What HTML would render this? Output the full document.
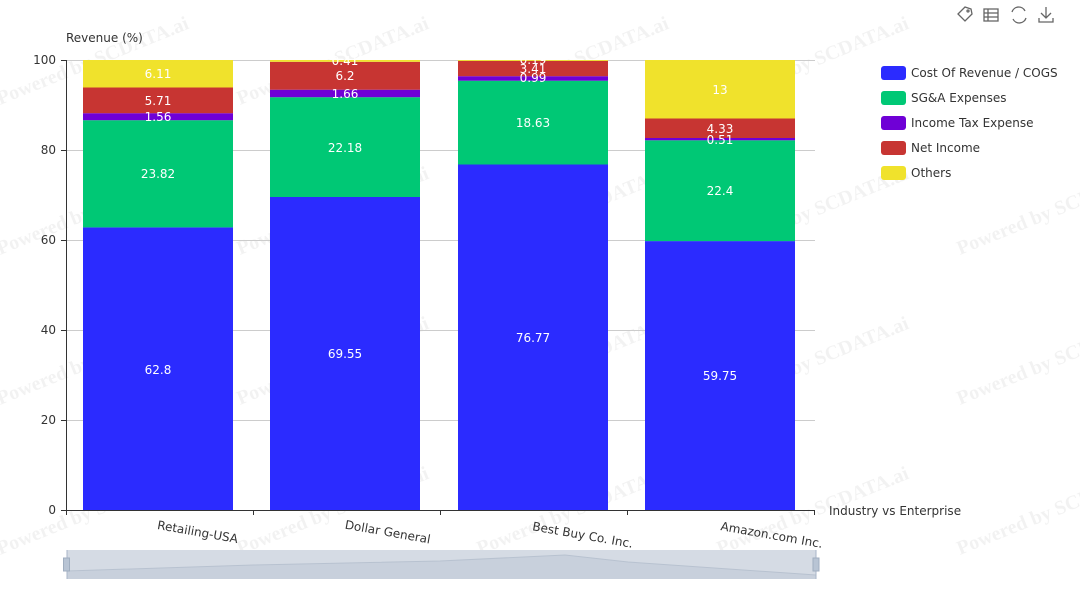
<!DOCTYPE html>
<html><head><meta charset="utf-8"><style>
html,body{margin:0;padding:0;background:#fff;}
svg{display:block;font-family:"DejaVu Sans","Liberation Sans",sans-serif;}
</style></head><body>
<svg width="1080" height="600" viewBox="0 0 1080 600" xmlns="http://www.w3.org/2000/svg">
<g fill="#000" fill-opacity="0.05" font-family="Liberation Serif,serif" font-weight="bold" font-size="20">
<text transform="translate(0,105) rotate(-22)">Powered by SCDATA.ai</text>
<text transform="translate(240,105) rotate(-22)">Powered by SCDATA.ai</text>
<text transform="translate(480,105) rotate(-22)">Powered by SCDATA.ai</text>
<text transform="translate(720,105) rotate(-22)">Powered by SCDATA.ai</text>
<text transform="translate(0,255) rotate(-22)">Powered by SCDATA.ai</text>
<text transform="translate(240,255) rotate(-22)">Powered by SCDATA.ai</text>
<text transform="translate(480,255) rotate(-22)">Powered by SCDATA.ai</text>
<text transform="translate(720,255) rotate(-22)">Powered by SCDATA.ai</text>
<text transform="translate(960,255) rotate(-22)">Powered by SCDATA.ai</text>
<text transform="translate(0,405) rotate(-22)">Powered by SCDATA.ai</text>
<text transform="translate(240,405) rotate(-22)">Powered by SCDATA.ai</text>
<text transform="translate(480,405) rotate(-22)">Powered by SCDATA.ai</text>
<text transform="translate(720,405) rotate(-22)">Powered by SCDATA.ai</text>
<text transform="translate(960,405) rotate(-22)">Powered by SCDATA.ai</text>
<text transform="translate(0,555) rotate(-22)">Powered by SCDATA.ai</text>
<text transform="translate(240,555) rotate(-22)">Powered by SCDATA.ai</text>
<text transform="translate(480,555) rotate(-22)">Powered by SCDATA.ai</text>
<text transform="translate(720,555) rotate(-22)">Powered by SCDATA.ai</text>
<text transform="translate(960,555) rotate(-22)">Powered by SCDATA.ai</text>
</g>
<g stroke="#ccc" stroke-width="1">
<line x1="66" x2="815" y1="60.5" y2="60.5"/>
<line x1="66" x2="815" y1="150.5" y2="150.5"/>
<line x1="66" x2="815" y1="240.5" y2="240.5"/>
<line x1="66" x2="815" y1="330.5" y2="330.5"/>
<line x1="66" x2="815" y1="420.5" y2="420.5"/>
</g>
<text x="66" y="42" font-size="12" fill="#333">Revenue (%)</text>
<g font-size="12" fill="#333" text-anchor="end">
<text x="56" y="64">100</text><text x="56" y="154">80</text><text x="56" y="244">60</text>
<text x="56" y="334">40</text><text x="56" y="424">20</text><text x="56" y="514">0</text>
</g>
<g>
<rect x="83" y="227.4" width="150" height="282.6" fill="#2b2bff"/>
<rect x="83" y="120.2" width="150" height="107.2" fill="#00c875"/>
<rect x="83" y="113.2" width="150" height="7" fill="#6f00d6"/>
<rect x="83" y="87.5" width="150" height="25.7" fill="#c73532"/>
<rect x="83" y="60" width="150" height="27.5" fill="#f0e22c"/>

<rect x="270" y="197" width="150" height="313" fill="#2b2bff"/>
<rect x="270" y="97.2" width="150" height="99.8" fill="#00c875"/>
<rect x="270" y="89.7" width="150" height="7.5" fill="#6f00d6"/>
<rect x="270" y="61.8" width="150" height="27.9" fill="#c73532"/>
<rect x="270" y="60" width="150" height="1.8" fill="#f0e22c"/>

<rect x="458" y="164.5" width="150" height="345.5" fill="#2b2bff"/>
<rect x="458" y="80.7" width="150" height="83.8" fill="#00c875"/>
<rect x="458" y="76.2" width="150" height="4.5" fill="#6f00d6"/>
<rect x="458" y="60.9" width="150" height="15.3" fill="#c73532"/>
<rect x="458" y="60" width="150" height="0.9" fill="#f0e22c"/>

<rect x="645" y="241.1" width="150" height="268.9" fill="#2b2bff"/>
<rect x="645" y="140.3" width="150" height="100.8" fill="#00c875"/>
<rect x="645" y="138" width="150" height="2.3" fill="#6f00d6"/>
<rect x="645" y="118.5" width="150" height="19.5" fill="#c73532"/>
<rect x="645" y="60" width="150" height="58.5" fill="#f0e22c"/>
</g>
<g font-size="12" fill="#fff" text-anchor="middle">
<text x="158" y="374">62.8</text><text x="158" y="178">23.82</text><text x="158" y="121">1.56</text>
<text x="158" y="105">5.71</text><text x="158" y="78">6.11</text>
<text x="345" y="358">69.55</text><text x="345" y="152">22.18</text><text x="345" y="98">1.66</text>
<text x="345" y="80">6.2</text><text x="345" y="65">0.41</text>
<text x="533" y="342">76.77</text><text x="533" y="127">18.63</text><text x="533" y="82">0.99</text>
<text x="533" y="73">3.41</text><text x="533" y="64">0.19</text>
<text x="720" y="380">59.75</text><text x="720" y="195">22.4</text><text x="720" y="144">0.51</text>
<text x="720" y="133">4.33</text><text x="720" y="94">13</text>
</g>
<line x1="66.5" x2="66.5" y1="60" y2="510" stroke="#333"/>
<line x1="61" x2="66" y1="60.5" y2="60.5" stroke="#333"/>
<line x1="61" x2="66" y1="150.5" y2="150.5" stroke="#333"/>
<line x1="61" x2="66" y1="240.5" y2="240.5" stroke="#333"/>
<line x1="61" x2="66" y1="330.5" y2="330.5" stroke="#333"/>
<line x1="61" x2="66" y1="420.5" y2="420.5" stroke="#333"/>
<line x1="61" x2="815" y1="510.5" y2="510.5" stroke="#333"/>
<g stroke="#333"><line x1="66.5" x2="66.5" y1="510" y2="515"/><line x1="253.5" x2="253.5" y1="510" y2="515"/>
<line x1="440.5" x2="440.5" y1="510" y2="515"/><line x1="627.5" x2="627.5" y1="510" y2="515"/><line x1="814.5" x2="814.5" y1="510" y2="515"/></g>
<g font-size="12" fill="#333" text-anchor="middle">
<text transform="translate(197,536) rotate(10)">Retailing-USA</text>
<text transform="translate(387,536) rotate(10)">Dollar General</text>
<text transform="translate(582,539) rotate(10)">Best Buy Co. Inc.</text>
<text transform="translate(771,539) rotate(10)">Amazon.com Inc.</text>
</g>
<text x="829" y="515" font-size="12" fill="#333">Industry vs Enterprise</text>
<rect x="67" y="550" width="749" height="29" fill="#d5dbe4"/>
<path d="M67,571 L253,565 L440,561 L565,555 L628,562 L816,575 L816,579 L67,579 Z" fill="#c8d0dc"/>
<path d="M67,571 L253,565 L440,561 L565,555 L628,562 L816,575" fill="none" stroke="#b8c2d0"/>
<line x1="67" x2="67" y1="550" y2="579" stroke="#a9b6c8"/>
<line x1="816" x2="816" y1="550" y2="579" stroke="#a9b6c8"/>
<rect x="63.5" y="558" width="6" height="13" fill="#b8c4d4" stroke="#a0aec0"/>
<rect x="813" y="558" width="6" height="13" fill="#b8c4d4" stroke="#a0aec0"/>
<g font-size="12" fill="#333">
<rect x="881" y="66" width="25" height="14" rx="3" fill="#2b2bff"/><text x="911" y="77">Cost Of Revenue / COGS</text>
<rect x="881" y="91" width="25" height="14" rx="3" fill="#00c875"/><text x="911" y="102">SG&amp;A Expenses</text>
<rect x="881" y="116" width="25" height="14" rx="3" fill="#6f00d6"/><text x="911" y="127">Income Tax Expense</text>
<rect x="881" y="141" width="25" height="14" rx="3" fill="#c73532"/><text x="911" y="152">Net Income</text>
<rect x="881" y="166" width="25" height="14" rx="3" fill="#f0e22c"/><text x="911" y="177">Others</text>
</g>
<g fill="none" stroke="#666" stroke-width="1.3">
<path d="M958,14 L965,7 L971,9 L972,14 L965,21 Z"/><circle cx="968" cy="11" r="1"/>
<rect x="984" y="9" width="14" height="12"/><line x1="984" x2="998" y1="13" y2="13"/><line x1="984" x2="998" y1="17" y2="17"/><line x1="988" x2="988" y1="9" y2="21"/>
<path d="M1012,12 A7,7 0 0 1 1025,11"/><path d="M1026,18 A7,7 0 0 1 1013,19"/>
<path d="M1046,7 L1046,18 M1041,13 L1046,18 L1051,13 M1039,18 L1039,22 L1053,22 L1053,18"/>
</g>
</svg>
</body></html>
